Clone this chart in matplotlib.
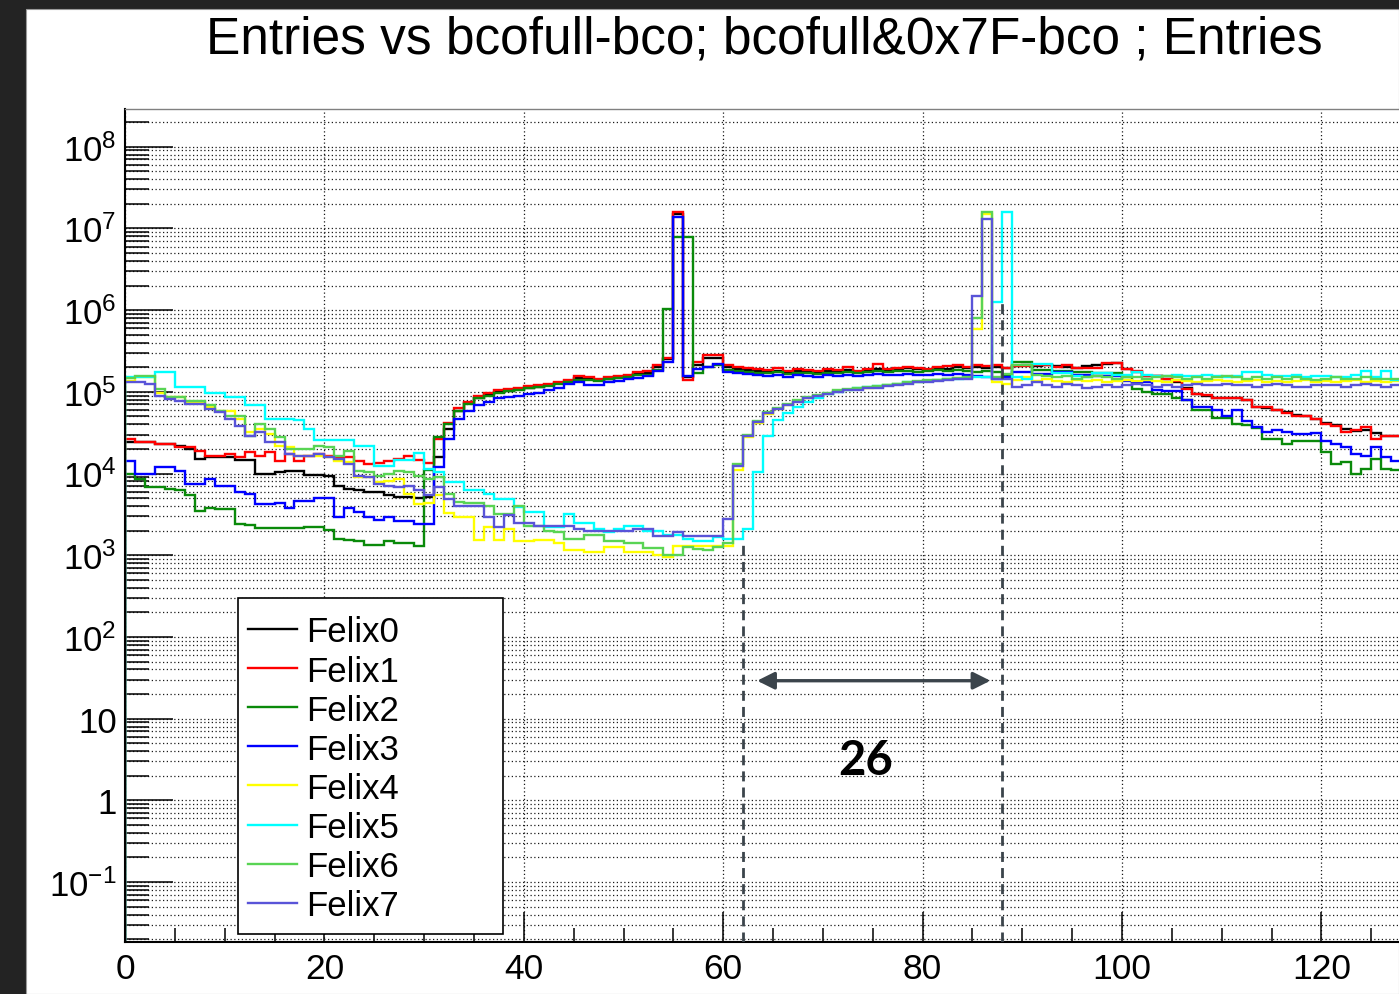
import numpy as np
import matplotlib
matplotlib.use("Agg")
import matplotlib.pyplot as plt
from matplotlib.ticker import FixedLocator, MultipleLocator, FuncFormatter, NullFormatter
from matplotlib.patches import Rectangle
from matplotlib.lines import Line2D

plt.rcParams['font.family'] = ['Liberation Sans', 'DejaVu Sans']
plt.rcParams['mathtext.fontset'] = 'custom'
plt.rcParams['mathtext.rm'] = 'Liberation Sans'
plt.rcParams['mathtext.it'] = 'Liberation Sans:italic'
plt.rcParams['mathtext.bf'] = 'Liberation Sans:bold'
plt.rcParams['mathtext.default'] = 'regular'

# ---------------- data (entries per bin, bins of width 1 from 0 to 128) ----------------
bin_edges = np.arange(0, 129)

felix0 = [2.4e4, 2.4e4, 2.4e4, 2.3e4, 2.3e4, 2.2e4, 2.0e4, 1.5e4,
          1.6e4, 1.6e4, 1.6e4, 1.45e4, 1.45e4, 1.0e4, 1.0e4, 1.05e4,
          1.07e4, 1.07e4, 9.5e3, 9.5e3, 9.2e3, 7.1e3, 6.5e3, 6.2e3,
          5.9e3, 5.9e3, 5.5e3, 5.2e3, 5.1e3, 5.0e3, 5.2e3, 1.6e4,
          3.5e4, 5.8e4, 7.2e4, 8.5e4, 9.3e4, 1.0e5, 1.03e5, 1.07e5,
          1.12e5, 1.15e5, 1.2e5, 1.28e5, 1.32e5, 1.48e5, 1.42e5, 1.4e5,
          1.45e5, 1.5e5, 1.55e5, 1.65e5, 1.72e5, 2.0e5, 2.5e5, 1.5e7,
          1.5e5, 2.1e5, 2.6e5, 2.6e5, 2.0e5, 1.9e5, 1.85e5, 1.8e5,
          1.75e5, 1.8e5, 1.7e5, 1.8e5, 1.75e5, 1.7e5, 1.8e5, 1.75e5,
          1.85e5, 1.75e5, 1.8e5, 1.9e5, 1.8e5, 1.85e5, 1.95e5, 1.9e5,
          1.85e5, 1.95e5, 1.9e5, 2.0e5, 1.95e5, 2.0e5, 1.95e5, 2.0e5,
          1.95e5, 2.05e5, 2.1e5, 2.05e5, 2.1e5, 2.05e5, 2.0e5, 1.95e5,
          2.05e5, 2.1e5, 2.2e5, 2.25e5, 1.9e5, 1.75e5, 1.55e5, 1.55e5,
          1.45e5, 1.3e5, 1.12e5, 9.5e4, 9.0e4, 8.5e4, 8.4e4, 8.3e4,
          8.0e4, 6.6e4, 6.4e4, 6.0e4, 5.6e4, 5.2e4, 5.0e4, 4.7e4,
          4.1e4, 3.9e4, 3.5e4, 3.3e4, 3.4e4, 3.1e4, 2.9e4, 2.9e4]

felix1 = [2.64e4, 2.4e4, 2.4e4, 2.3e4, 2.3e4, 2.1e4, 2.1e4, 1.9e4,
          1.65e4, 1.65e4, 1.75e4, 1.58e4, 1.82e4, 1.65e4, 1.82e4, 1.44e4,
          1.73e4, 1.44e4, 1.65e4, 1.73e4, 1.65e4, 1.58e4, 1.58e4, 1.44e4,
          1.3e4, 1.33e4, 1.44e4, 1.5e4, 1.65e4, 1.45e4, 1.35e4, 2.64e4,
          4.2e4, 6.3e4, 7.6e4, 9.0e4, 9.8e4, 1.05e5, 1.08e5, 1.12e5,
          1.18e5, 1.22e5, 1.25e5, 1.33e5, 1.38e5, 1.58e5, 1.52e5, 1.45e5,
          1.52e5, 1.55e5, 1.62e5, 1.75e5, 1.82e5, 2.1e5, 2.6e5, 1.6e7,
          1.4e5, 2.3e5, 2.85e5, 2.85e5, 2.1e5, 2.0e5, 1.95e5, 1.9e5,
          1.85e5, 1.95e5, 1.8e5, 1.9e5, 1.85e5, 1.8e5, 1.9e5, 1.85e5,
          2.0e5, 1.8e5, 1.9e5, 2.2e5, 1.9e5, 1.95e5, 2.0e5, 1.95e5,
          1.9e5, 2.0e5, 2.05e5, 2.1e5, 2.0e5, 2.1e5, 2.05e5, 2.1e5,
          1.94e5, 2.09e5, 2.09e5, 2.12e5, 2.12e5, 2.0e5, 2.1e5, 1.94e5,
          1.98e5, 1.98e5, 2.25e5, 2.25e5, 1.9e5, 1.81e5, 1.55e5, 1.55e5,
          1.44e5, 1.34e5, 1.09e5, 9.5e4, 9.1e4, 8.3e4, 8.4e4, 8.3e4,
          7.9e4, 6.6e4, 6.5e4, 6.0e4, 5.5e4, 5.1e4, 5.0e4, 4.6e4,
          4.0e4, 3.8e4, 3.2e4, 3.4e4, 3.7e4, 2.64e4, 2.9e4, 2.85e4]

felix2 = [1.0e4, 8.6e3, 6.8e3, 6.8e3, 6.4e3, 6.2e3, 5.4e3, 3.5e3,
          3.8e3, 3.7e3, 3.7e3, 2.4e3, 2.35e3, 2.15e3, 2.15e3, 2.15e3,
          2.15e3, 2.15e3, 2.2e3, 2.2e3, 2.05e3, 1.6e3, 1.55e3, 1.5e3,
          1.35e3, 1.35e3, 1.5e3, 1.4e3, 1.4e3, 1.3e3, 1.1e4, 2.8e4,
          4.0e4, 5.8e4, 7.0e4, 8.3e4, 9.0e4, 9.8e4, 1.02e5, 1.05e5,
          1.1e5, 1.13e5, 1.18e5, 1.25e5, 1.3e5, 1.4e5, 1.38e5, 1.36e5,
          1.42e5, 1.46e5, 1.52e5, 1.6e5, 1.62e5, 1.85e5, 1.03e6, 7.8e6,
          7.8e6, 1.7e5, 2.0e5, 2.1e5, 1.85e5, 1.8e5, 1.75e5, 1.7e5,
          1.7e5, 1.75e5, 1.65e5, 1.7e5, 1.7e5, 1.65e5, 1.7e5, 1.7e5,
          1.75e5, 1.7e5, 1.75e5, 1.8e5, 1.75e5, 1.8e5, 1.8e5, 1.75e5,
          1.8e5, 1.85e5, 1.8e5, 1.85e5, 1.8e5, 1.75e5, 1.8e5, 1.75e5,
          1.6e5, 2.3e5, 2.3e5, 1.85e5, 1.85e5, 1.8e5, 1.8e5, 1.75e5,
          1.75e5, 1.7e5, 1.7e5, 1.7e5, 1.5e5, 1.09e5, 1.0e5, 9.5e4,
          9.5e4, 8.3e4, 8.0e4, 6.0e4, 6.0e4, 4.8e4, 4.8e4, 4.0e4,
          3.9e4, 3.6e4, 2.64e4, 2.65e4, 2.3e4, 2.5e4, 2.5e4, 2.5e4,
          1.82e4, 1.31e4, 1.37e4, 9.9e3, 1.14e4, 1.5e4, 1.14e4, 1.09e4]

felix3 = [1.44e4, 1.0e4, 1.0e4, 1.2e4, 1.2e4, 1.08e4, 7.4e3, 7.4e3,
          8.6e3, 7.1e3, 7.1e3, 5.9e3, 5.6e3, 4.2e3, 4.2e3, 4.4e3,
          3.8e3, 4.6e3, 4.6e3, 5.0e3, 5.0e3, 2.9e3, 3.8e3, 3.4e3,
          2.9e3, 2.7e3, 2.9e3, 2.6e3, 2.6e3, 2.4e3, 2.4e3, 1.2e4,
          2.64e4, 4.6e4, 5.9e4, 6.8e4, 7.4e4, 8.3e4, 8.6e4, 9.0e4,
          9.4e4, 9.8e4, 1.05e5, 1.12e5, 1.25e5, 1.3e5, 1.2e5, 1.2e5,
          1.3e5, 1.35e5, 1.42e5, 1.48e5, 1.57e5, 1.8e5, 2.3e5, 1.36e7,
          1.57e5, 1.9e5, 2.0e5, 2.2e5, 1.75e5, 1.7e5, 1.65e5, 1.6e5,
          1.55e5, 1.6e5, 1.5e5, 1.6e5, 1.55e5, 1.5e5, 1.6e5, 1.55e5,
          1.6e5, 1.55e5, 1.6e5, 1.65e5, 1.6e5, 1.6e5, 1.65e5, 1.6e5,
          1.6e5, 1.65e5, 1.6e5, 1.65e5, 1.6e5, 1.55e5, 1.5e5, 1.45e5,
          1.5e5, 1.73e5, 1.73e5, 1.65e5, 1.65e5, 1.73e5, 1.73e5, 1.6e5,
          1.6e5, 1.55e5, 1.55e5, 1.55e5, 1.37e5, 1.31e5, 1.31e5, 1.04e5,
          1.01e5, 1.01e5, 7.9e4, 6.6e4, 6.6e4, 6.0e4, 5.0e4, 6.0e4,
          4.4e4, 3.7e4, 3.2e4, 3.4e4, 3.2e4, 3.06e4, 3.06e4, 3.1e4,
          2.5e4, 2.3e4, 2.1e4, 1.73e4, 1.65e4, 2.1e4, 1.58e4, 1.44e4]

felix4 = [1.37e5, 1.5e5, 1.5e5, 9.8e4, 8.6e4, 8.6e4, 7.4e4, 7.4e4,
          6.5e4, 5.9e4, 5.9e4, 4.6e4, 3.2e4, 3.5e4, 3.05e4, 2.2e4,
          2.1e4, 1.65e4, 1.65e4, 1.65e4, 1.58e4, 1.44e4, 1.4e4, 9.0e3,
          9.0e3, 7.8e3, 8.2e3, 8.6e3, 5.6e3, 4.2e3, 4.4e3, 5.4e3,
          3.3e3, 2.9e3, 2.9e3, 1.55e3, 2.2e3, 1.55e3, 2.1e3, 1.5e3,
          1.5e3, 1.55e3, 1.55e3, 1.4e3, 1.15e3, 1.15e3, 1.1e3, 1.1e3,
          1.25e3, 1.25e3, 1.1e3, 1.1e3, 1.1e3, 1.0e3, 9.6e2, 1.3e3,
          1.3e3, 1.3e3, 1.3e3, 1.3e3, 1.3e3, 1.1e4, 2.8e4, 4.2e4,
          5.4e4, 6.1e4, 6.9e4, 7.7e4, 8.3e4, 9.0e4, 9.5e4, 1.01e5,
          1.05e5, 1.08e5, 1.12e5, 1.15e5, 1.2e5, 1.23e5, 1.28e5, 1.32e5,
          1.36e5, 1.38e5, 1.43e5, 1.46e5, 1.48e5, 5.9e5, 1.5e7, 1.3e5,
          1.25e5, 1.4e5, 1.5e5, 1.35e5, 1.45e5, 1.35e5, 1.3e5, 1.4e5,
          1.35e5, 1.4e5, 1.3e5, 1.35e5, 1.4e5, 1.35e5, 1.4e5, 1.35e5,
          1.3e5, 1.4e5, 1.35e5, 1.3e5, 1.35e5, 1.4e5, 1.35e5, 1.3e5,
          1.35e5, 1.4e5, 1.3e5, 1.35e5, 1.3e5, 1.35e5, 1.4e5, 1.3e5,
          1.35e5, 1.3e5, 1.35e5, 1.4e5, 1.3e5, 1.35e5, 1.3e5, 1.35e5]

felix5 = [1.5e5, 1.5e5, 1.5e5, 1.73e5, 1.73e5, 1.13e5, 1.13e5, 1.13e5,
          9.7e4, 9.7e4, 8.6e4, 8.6e4, 6.8e4, 6.8e4, 4.7e4, 4.7e4,
          4.7e4, 4.5e4, 3.5e4, 2.6e4, 2.6e4, 2.6e4, 2.6e4, 2.2e4,
          2.2e4, 1.25e4, 1.25e4, 1.45e4, 1.45e4, 1.8e4, 1.15e4, 1.03e4,
          7.8e3, 7.8e3, 6.2e3, 6.2e3, 5.6e3, 4.9e3, 4.9e3, 3.85e3,
          3.35e3, 3.35e3, 2.2e3, 2.2e3, 3.2e3, 2.5e3, 2.5e3, 2.1e3,
          1.9e3, 2.1e3, 2.3e3, 2.3e3, 2.0e3, 2.0e3, 1.75e3, 1.75e3,
          1.58e3, 1.5e3, 1.5e3, 1.65e3, 1.58e3, 1.58e3, 2.1e3, 1.03e4,
          2.9e4, 4.5e4, 5.5e4, 6.5e4, 7.5e4, 8.5e4, 9.3e4, 1.0e5,
          1.05e5, 1.1e5, 1.15e5, 1.18e5, 1.22e5, 1.25e5, 1.3e5, 1.32e5,
          1.35e5, 1.4e5, 1.42e5, 1.45e5, 1.48e5, 1.5e5, 1.5e5, 1.27e6,
          1.57e7, 1.5e5, 1.45e5, 2.2e5, 2.2e5, 1.7e5, 1.7e5, 1.55e5,
          1.5e5, 1.7e5, 1.7e5, 1.6e5, 1.6e5, 1.75e5, 1.6e5, 1.55e5,
          1.55e5, 1.6e5, 1.55e5, 1.55e5, 1.6e5, 1.55e5, 1.5e5, 1.55e5,
          1.75e5, 1.75e5, 1.6e5, 1.55e5, 1.55e5, 1.6e5, 1.5e5, 1.55e5,
          1.55e5, 1.5e5, 1.5e5, 1.6e5, 1.78e5, 1.5e5, 1.78e5, 1.4e5]

felix6 = [1.46e5, 1.58e5, 1.58e5, 1.08e5, 8.6e4, 8.6e4, 7.8e4, 7.8e4,
          6.8e4, 5.9e4, 5.1e4, 5.1e4, 2.9e4, 4.0e4, 3.5e4, 2.77e4,
          2.0e4, 2.0e4, 2.0e4, 2.2e4, 2.1e4, 1.65e4, 1.9e4, 1.08e4,
          1.03e4, 9.4e3, 9.9e3, 1.08e4, 1.05e4, 9.4e3, 8.6e3, 9.0e3,
          5.6e3, 4.5e3, 4.4e3, 4.4e3, 4.0e3, 3.2e3, 3.2e3, 4.0e3,
          2.3e3, 2.3e3, 2.0e3, 1.9e3, 1.58e3, 1.58e3, 1.75e3, 1.75e3,
          1.5e3, 1.5e3, 1.4e3, 1.4e3, 1.22e3, 1.22e3, 1.0e3, 1.0e3,
          1.25e3, 1.2e3, 1.15e3, 1.25e3, 1.4e3, 1.3e4, 3.0e4, 4.4e4,
          5.7e4, 6.4e4, 7.1e4, 7.9e4, 8.6e4, 9.2e4, 9.8e4, 1.04e5,
          1.08e5, 1.1e5, 1.14e5, 1.17e5, 1.22e5, 1.25e5, 1.3e5, 1.34e5,
          1.38e5, 1.4e5, 1.45e5, 1.48e5, 1.5e5, 8.0e5, 1.6e7, 1.5e5,
          1.65e5, 2.1e5, 2.1e5, 1.6e5, 1.55e5, 1.5e5, 1.55e5, 1.45e5,
          1.5e5, 1.55e5, 1.5e5, 1.45e5, 1.5e5, 1.5e5, 1.45e5, 1.5e5,
          1.55e5, 1.5e5, 1.45e5, 1.5e5, 1.45e5, 1.5e5, 1.55e5, 1.5e5,
          1.45e5, 1.5e5, 1.45e5, 1.5e5, 1.45e5, 1.5e5, 1.45e5, 1.4e5,
          1.45e5, 1.5e5, 1.45e5, 1.45e5, 1.5e5, 1.45e5, 1.45e5, 1.45e5]

felix7 = [1.31e5, 1.33e5, 1.25e5, 9.0e4, 8.2e4, 7.8e4, 7.1e4, 7.1e4,
          6.2e4, 5.6e4, 4.6e4, 3.85e4, 2.9e4, 3.2e4, 2.4e4, 2.4e4,
          1.73e4, 1.65e4, 1.65e4, 1.73e4, 1.58e4, 1.5e4, 1.31e4, 9.4e3,
          9.0e3, 7.4e3, 7.1e3, 6.8e3, 7.1e3, 6.2e3, 5.4e3, 6.8e3,
          4.9e3, 4.0e3, 4.0e3, 4.0e3, 2.9e3, 2.2e3, 3.1e3, 2.45e3,
          2.45e3, 2.3e3, 2.3e3, 2.3e3, 2.3e3, 2.1e3, 2.0e3, 2.0e3,
          2.0e3, 2.0e3, 2.0e3, 2.1e3, 2.1e3, 1.73e3, 1.73e3, 1.95e3,
          1.73e3, 1.73e3, 1.73e3, 1.73e3, 2.8e3, 1.24e4, 2.9e4, 4.3e4,
          5.5e4, 6.2e4, 6.8e4, 7.6e4, 8.4e4, 8.8e4, 9.4e4, 1.0e5,
          1.04e5, 1.06e5, 1.1e5, 1.12e5, 1.18e5, 1.2e5, 1.25e5, 1.3e5,
          1.33e5, 1.36e5, 1.4e5, 1.42e5, 1.45e5, 1.5e6, 1.3e7, 1.44e5,
          1.44e5, 1.13e5, 1.2e5, 1.3e5, 1.2e5, 1.15e5, 1.25e5, 1.2e5,
          1.1e5, 1.15e5, 1.2e5, 1.15e5, 1.2e5, 1.25e5, 1.2e5, 1.15e5,
          1.2e5, 1.15e5, 1.2e5, 1.25e5, 1.2e5, 1.2e5, 1.25e5, 1.2e5,
          1.2e5, 1.15e5, 1.2e5, 1.25e5, 1.2e5, 1.15e5, 1.15e5, 1.2e5,
          1.2e5, 1.2e5, 1.15e5, 1.2e5, 1.25e5, 1.2e5, 1.15e5, 1.2e5]

series_names = ["Felix0", "Felix1", "Felix2", "Felix3",
                "Felix4", "Felix5", "Felix6", "Felix7"]
series_values = [felix0, felix1, felix2, felix3, felix4, felix5, felix6, felix7]
series_colors = ["#000000", "#ff0000", "#0a8a0a", "#0000ff",
                 "#ffff00", "#00ffff", "#59d454", "#5954d8"]

# annotation: spacing between the two spikes
gap_from, gap_to = 62, 88
gap_label = "26"

X_MIN, X_MAX = 0, 128
Y_MIN, Y_MAX = 0.01845, 2.893e8
decades = list(range(-1, 9))

# ---------------- figure / pixel helpers ----------------
W, H = 1399, 995


def fx(px):
    return px / W


def fy(py):
    return 1.0 - py / H


fig = plt.figure(figsize=(W / 100, H / 100), dpi=100, facecolor="#232323")
fig.patches.append(Rectangle((fx(26), 0), 1 - fx(26), fy(10), transform=fig.transFigure,
                             facecolor="white", edgecolor="#9a9a9a", lw=0.8, zorder=-5))

ax = fig.add_axes([fx(125), fy(943), (1401.2 - 125) / W, (943 - 110) / H])
ax.set_yscale("log")
ax.set_xlim(X_MIN, X_MAX)
ax.set_ylim(Y_MIN, Y_MAX)
ax.set_axisbelow(True)

for vals, col in zip(series_values, series_colors):
    ax.stairs(vals, bin_edges, baseline=Y_MIN, color=col, lw=1.7, zorder=2)

# ---------------- axes styling (ROOT look) ----------------
major_y = [10.0 ** e for e in decades]
minor_y = [m * 10.0 ** e for e in range(-2, 9) for m in range(2, 10)
           if Y_MIN < m * 10.0 ** e < Y_MAX]
ax.xaxis.set_major_locator(MultipleLocator(20))
ax.xaxis.set_minor_locator(MultipleLocator(5))
ax.yaxis.set_major_locator(FixedLocator(major_y))
ax.yaxis.set_minor_locator(FixedLocator(minor_y))
ax.yaxis.set_minor_formatter(NullFormatter())


def ylab(v, _pos):
    e = int(round(np.log10(v)))
    if e == 0:
        return "1"
    if e == 1:
        return "10"
    return "$10^{%d}$" % e


ax.yaxis.set_major_formatter(FuncFormatter(ylab))

ax.tick_params(axis="x", which="major", direction="in", length=21.5, width=1.1,
               labelsize=25.5, pad=7.5, top=False)
ax.tick_params(axis="x", which="minor", direction="in", length=10, width=1.1, top=False)
ax.tick_params(axis="y", which="major", direction="in", length=34.5, width=1.1,
               labelsize=25, pad=6, right=False)
ax.tick_params(axis="y", which="minor", direction="in", length=17.3, width=1.1, right=False)

ax.grid(True, which="both", axis="y", color="#1a1a1a", lw=0.9, linestyle=(0, (1, 2)))
ax.grid(True, which="major", axis="x", color="#1a1a1a", lw=0.9, linestyle=(0, (1, 2)))

ax.spines["left"].set_linewidth(1.5)
ax.spines["bottom"].set_linewidth(1.5)
ax.spines["top"].set_linewidth(1.0)
ax.spines["top"].set_color("#808080")
ax.spines["right"].set_visible(False)

# ---------------- annotation overlay ----------------
ax.vlines(gap_from, Y_MIN, 1450, colors="#3b444b", lw=2.0, linestyles=(0, (3.6, 2.2)), zorder=4)
ax.vlines(gap_to, Y_MIN, 1.25e6, colors="#3b444b", lw=2.0, linestyles=(0, (3.6, 2.2)), zorder=4)
ax.annotate("", xy=(86.8, 29.1), xytext=(63.4, 29.1),
            arrowprops=dict(arrowstyle="<|-|>", color="#3b444b", lw=2.4,
                            mutation_scale=26, shrinkA=0, shrinkB=0), zorder=5)
ax.text(74.3, 2.1, gap_label, ha="center", va="baseline", fontsize=34,
        family=["Lato", "DejaVu Sans"], fontweight="bold", color="black", zorder=5)

# ---------------- legend box (drawn like ROOT's TLegend) ----------------
fig.patches.append(Rectangle((fx(238), fy(935)), fx(503) - fx(238), fy(599) - fy(935),
                             transform=fig.transFigure, facecolor="white",
                             edgecolor="black", lw=1.2, zorder=10))
for i, (name, col) in enumerate(zip(series_names, series_colors)):
    row_y = 630 + 39.1 * i
    fig.lines.append(Line2D([fx(248), fx(297)], [fy(row_y), fy(row_y)],
                            transform=fig.transFigure, color=col, lw=1.7, zorder=11))
    fig.text(fx(306), fy(row_y + 3), name, ha="left", va="center",
             fontsize=25, color="black", zorder=12)

# ---------------- title ----------------
fig.text(fx(764), fy(53), "Entries vs bcofull-bco; bcofull&0x7F-bco ; Entries",
         ha="center", va="baseline", fontsize=37, color="black")

fig.savefig("out.png", dpi=100, facecolor=fig.get_facecolor())
